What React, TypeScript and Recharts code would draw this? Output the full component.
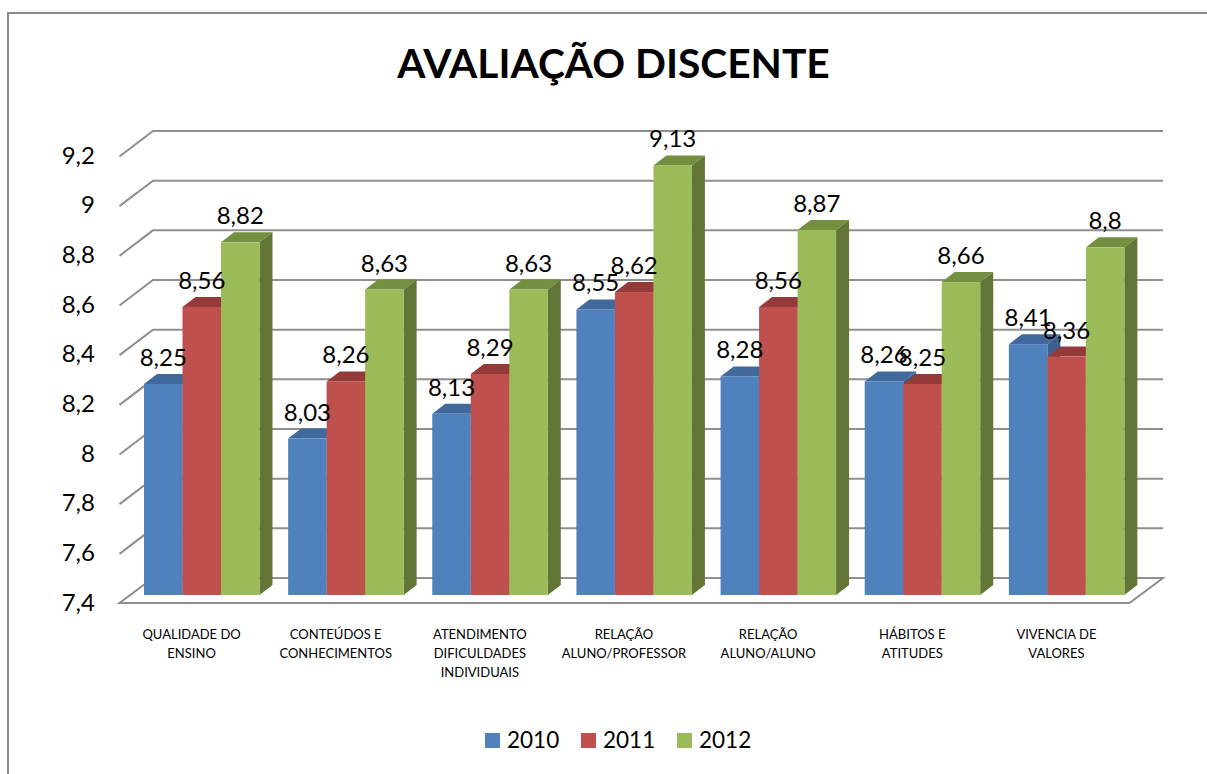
import { Bar, BarChart, CartesianGrid, LabelList, Legend, XAxis, YAxis } from "recharts";

const categories = [
  "QUALIDADE DO\nENSINO",
  "CONTEÚDOS E\nCONHECIMENTOS",
  "ATENDIMENTO\nDIFICULDADES\nINDIVIDUAIS",
  "RELAÇÃO\nALUNO/PROFESSOR",
  "RELAÇÃO\nALUNO/ALUNO",
  "HÁBITOS E\nATITUDES",
  "VIVENCIA DE\nVALORES",
];
const values2010 = [8.25, 8.03, 8.13, 8.55, 8.28, 8.26, 8.41];
const values2011 = [8.56, 8.26, 8.29, 8.62, 8.56, 8.25, 8.36];
const values2012 = [8.82, 8.63, 8.63, 9.13, 8.87, 8.66, 8.8];
const yTicks = [7.4, 7.6, 7.8, 8, 8.2, 8.4, 8.6, 8.8, 9, 9.2];

const data = categories.map((name, i) => ({
  name,
  y2010: values2010[i],
  y2011: values2011[i],
  y2012: values2012[i],
}));

const series = [
  { key: "y2010", name: "2010", front: "#4F81BD", top: "#41699C", side: "#3B5F8A" },
  { key: "y2011", name: "2011", front: "#C0504D", top: "#943B39", side: "#73302E" },
  { key: "y2012", name: "2012", front: "#9BBB59", top: "#739040", side: "#637638" },
];

const FONT = "Lato, sans-serif";
const GRID = "#8f8f8f";
const DEPTH_X = 13;
const DEPTH_Y = 10;

const comma = (v: number | string) => String(v).replace(".", ",");

// front face plus the top and side faces of the 3D column
const Column3D = (props: any) => {
  const { x, y, width, height, colors } = props;
  const r = x + width;
  const b = y + height;
  return (
    <g>
      <polygon
        points={`${x},${y} ${x + DEPTH_X},${y - DEPTH_Y} ${r + DEPTH_X},${y - DEPTH_Y} ${r},${y}`}
        fill={colors.top}
      />
      <polygon
        points={`${r},${y} ${r + DEPTH_X},${y - DEPTH_Y} ${r + DEPTH_X},${b - DEPTH_Y} ${r},${b}`}
        fill={colors.side}
      />
      <rect x={x} y={y} width={width} height={height} fill={colors.front} />
    </g>
  );
};

// each grid line runs along the back wall and bends towards the front on the left
const gridLine = (props: any) => {
  const y = props.y1;
  const isFloor = Math.abs(y - 595) < 1;
  const d = isFloor
    ? `M153 ${y - 17} L1163 ${y - 17} L1129.5 ${y + 8} L119.5 ${y + 8} Z`
    : `M119.5 ${y + 8.5} L153 ${y - 17} L1163 ${y - 17}`;
  return <path key={props.key} d={d} fill="none" stroke={GRID} strokeWidth={2} />;
};

const YTick = ({ y, payload }: any) => (
  <text x={95} y={y + 15.5} textAnchor="end" fontFamily={FONT} fontSize={24} fill="#000">
    {comma(payload.value)}
  </text>
);

const XTick = ({ x, payload }: any) => (
  <text textAnchor="middle" fontFamily={FONT} fontSize={13} fill="#000">
    {String(payload.value)
      .split("\n")
      .map((line, i) => (
        <tspan key={i} x={x - 10.5} y={639 + i * 19}>
          {line}
        </tspan>
      ))}
  </text>
);

const LegendBox = () => (
  <div style={{ position: "relative", height: 30 }}>
    {series.map((s, i) => (
      <div key={s.key} style={{ position: "absolute", left: i * 96, top: 0, display: "flex", alignItems: "center" }}>
        <div style={{ width: 15, height: 15, background: s.front, marginRight: 7 }} />
        <span style={{ fontFamily: FONT, fontSize: 22.5, lineHeight: "30px", color: "#000" }}>{s.name}</span>
      </div>
    ))}
  </div>
);

export default function App() {
  return (
    <div style={{ position: "fixed", left: 0, top: 0, width: 1207, height: 774, overflow: "hidden", background: "#fff" }}>
      <div
        style={{
          position: "absolute",
          left: 6.5,
          top: 11.5,
          right: 0,
          bottom: 0,
          borderLeft: "2px solid #8a8a8a",
          borderTop: "2px solid #8a8a8a",
        }}
      />
      <BarChart
        width={1207}
        height={774}
        data={data}
        barGap={0}
        margin={{ top: 148, right: 68, bottom: 0, left: 0 }}
        style={{ position: "absolute", left: 0, top: 0 }}
      >
        <text x={613.5} y={78} textAnchor="middle" fontFamily={FONT} fontWeight={700} fontSize={40.7} fill="#000">
          AVALIAÇÃO DISCENTE
        </text>
        <CartesianGrid horizontal={gridLine} vertical={false} />
        <XAxis dataKey="name" height={149} interval={0} axisLine={false} tickLine={false} tick={<XTick />} />
        <YAxis width={130} domain={[7.4, 9.2]} ticks={yTicks} axisLine={false} tickLine={false} tick={<YTick />} />
        {series.map((s) => (
          <Bar
            key={s.key}
            dataKey={s.key}
            name={s.name}
            barSize={38.5}
            fill={s.front}
            isAnimationActive={false}
            shape={(p: any) => <Column3D {...p} colors={s} />}
          >
            <LabelList
              dataKey={s.key}
              position="top"
              offset={18}
              formatter={comma}
              fontFamily={FONT}
              fontSize={24}
              fill="#000"
            />
          </Bar>
        ))}
        <Legend
          content={<LegendBox />}
          wrapperStyle={{ position: "absolute", left: 485, top: 725, width: 300, height: 30 }}
        />
      </BarChart>
    </div>
  );
}
